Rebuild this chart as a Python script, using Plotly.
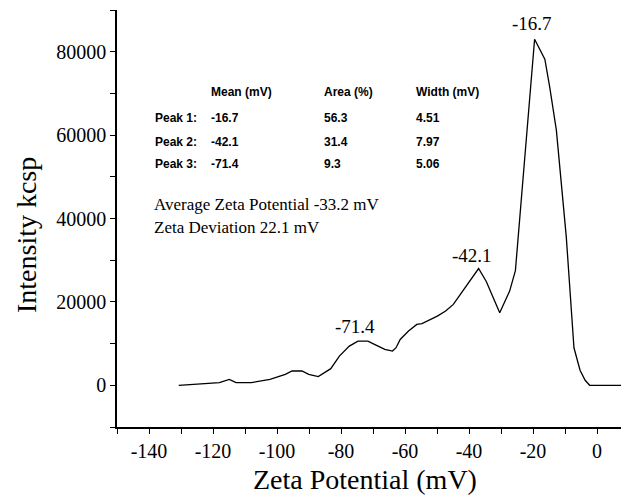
import plotly.graph_objects as go

# Zeta potential distribution
zeta_mv = [-130.7, -124.9, -118.0, -114.9, -112.8, -108.0, -102.2, -97.4, -95.3, -92.2,
           -90.1, -87.1, -83.2, -80.5, -77.4, -74.7, -71.6, -68.9, -66.3, -63.9,
           -62.8, -61.5, -58.9, -56.3, -54.7, -49.9, -47.3, -44.9, -41.5, -37.0,
           -34.6, -30.4, -27.3, -25.5, -19.5, -16.3, -14.8, -12.7, -9.6, -7.2,
           -5.3, -3.7, -2.3, 10.0]
intensity = [0, 320, 640, 1430, 640, 640, 1430, 2630, 3430, 3430,
             2630, 2070, 3990, 7010, 9400, 10600, 10600, 9560, 8610, 8210,
             9010, 11000, 13000, 14600, 14800, 16600, 17800, 19400, 23100, 28000,
             24900, 17400, 22600, 27500, 83000, 78200, 71600, 61200, 35600, 9000,
             3600, 1200, 0, 0]

x_tick_vals = [-140, -120, -100, -80, -60, -40, -20, 0]
x_tick_text = ["-140", "-120", "-100", "-80", "-60", "-40", "-20", "0"]
y_tick_vals = [0, 20000, 40000, 60000, 80000]
y_tick_text = ["0", "20000", "40000", "60000", "80000"]

x_title = "Zeta Potential (mV)"
y_title = "Intensity kcsp"

peak_labels = ["-16.7", "-42.1", "-71.4"]
peak_label_x = [-20.4, -39.0, -75.6]
peak_label_y = [86800, 31200, 14200]

table_header = ["Mean (mV)", "Area (%)", "Width (mV)"]
table_rows = ["Peak 1:", "Peak 2:", "Peak 3:"]
table_mean = ["-16.7", "-42.1", "-71.4"]
table_area = ["56.3", "31.4", "9.3"]
table_width = ["4.51", "7.97", "5.06"]
summary_lines = ["Average Zeta Potential -33.2 mV", "Zeta Deviation 22.1 mV"]

SERIF = "Liberation Serif"
SANS = "Liberation Sans"

fig = go.Figure()
fig.add_trace(go.Scatter(x=zeta_mv, y=intensity, mode="lines",
                         line=dict(color="black", width=1.3), showlegend=False,
                         hoverinfo="skip"))

annotations = []
for t, x, y in zip(peak_labels, peak_label_x, peak_label_y):
    annotations.append(dict(x=x, y=y, xref="x", yref="y", text=t, showarrow=False,
                            xanchor="center", yanchor="middle",
                            font=dict(family=SERIF, size=19, color="black")))

col_x = [-121.4, -86.0, -57.2]
row_label_x = -138.8
header_y = 70400
row_y = [64000, 58400, 53000]
tfont = dict(family=SANS, size=12, color="black", weight="bold")
for cx, h in zip(col_x, table_header):
    annotations.append(dict(x=cx, y=header_y, xref="x", yref="y", text=h, showarrow=False,
                            xanchor="left", yanchor="middle", font=tfont))
for i, ry in enumerate(row_y):
    for cx, t in zip([row_label_x] + col_x,
                     [table_rows[i], table_mean[i], table_area[i], table_width[i]]):
        annotations.append(dict(x=cx, y=ry, xref="x", yref="y", text=t, showarrow=False,
                                xanchor="left", yanchor="middle", font=tfont))

for t, y in zip(summary_lines, [43400, 37750]):
    annotations.append(dict(x=-139.2, y=y, xref="x", yref="y", text=t, showarrow=False,
                            xanchor="left", yanchor="middle",
                            font=dict(family=SERIF, size=17, color="black")))

# axis titles as annotations (positioned like the reference)
annotations.append(dict(x=-72.6, y=-0.127, xref="x", yref="paper", text=x_title,
                        showarrow=False, xanchor="center", yanchor="middle",
                        font=dict(family=SERIF, size=28, color="black")))
annotations.append(dict(x=-0.178, y=36000, xref="paper", yref="y", text=y_title,
                        showarrow=False, xanchor="center", yanchor="middle", textangle=-90,
                        font=dict(family=SERIF, size=28, color="black")))

# page body has an 8px margin: size figure so the visible window matches
fig.update_layout(
    width=621, height=488,
    margin=dict(l=109, r=0, t=2, b=69),
    paper_bgcolor="white", plot_bgcolor="white",
    annotations=annotations,
    font=dict(family=SERIF, color="black"),
)
fig.update_xaxes(
    range=[-150, 10], showgrid=False, zeroline=False, automargin=False,
    showline=True, linecolor="black", linewidth=1.5,
    tickmode="array", tickvals=x_tick_vals, ticktext=x_tick_text,
    ticks="outside", ticklen=5, tickwidth=1.3, tickcolor="black",
    minor=dict(tickmode="linear", tick0=0, dtick=10, ticks="outside", ticklen=5,
               tickwidth=1.3, tickcolor="black", showgrid=False),
    tickfont=dict(family=SERIF, size=20, color="black"),
)
fig.update_yaxes(
    range=[-10000, 90000], showgrid=False, zeroline=False, automargin=False,
    showline=True, linecolor="black", linewidth=1.5,
    tickmode="array", tickvals=y_tick_vals, ticktext=y_tick_text,
    ticks="outside", ticklen=5, tickwidth=1.3, tickcolor="black",
    minor=dict(tickmode="linear", tick0=0, dtick=10000, ticks="outside", ticklen=5,
               tickwidth=1.3, tickcolor="black", showgrid=False),
    tickfont=dict(family=SERIF, size=20, color="black"),
)

fig.write_html("out.html")
